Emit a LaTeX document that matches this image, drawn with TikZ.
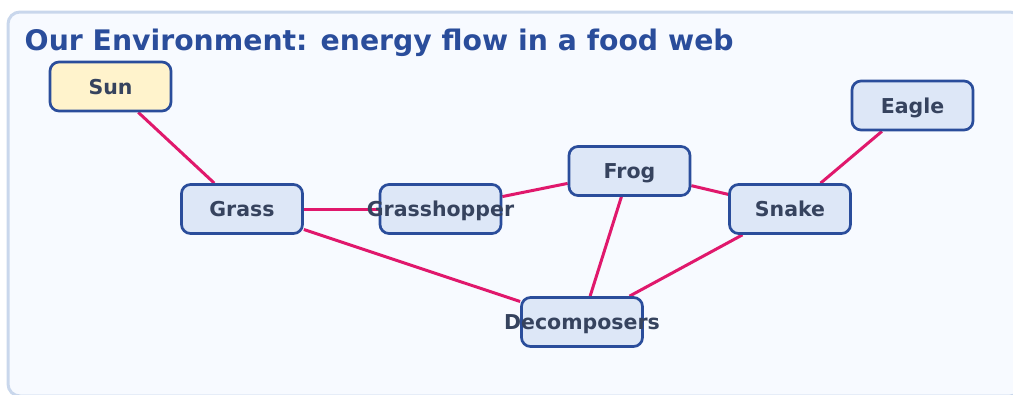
\documentclass[tikz,border=0pt]{standalone}
\usepackage{fontspec}
\setmainfont{DejaVu Sans}
\usetikzlibrary{backgrounds}
\usepackage{xcolor}
\definecolor{panelfill}{HTML}{F7FAFF}
\definecolor{panelline}{HTML}{C9D7EC}
\definecolor{boxfill}{HTML}{DDE7F7}
\definecolor{boxline}{HTML}{2A4D9B}
\definecolor{sunfill}{HTML}{FFF3CC}
\definecolor{linkcol}{HTML}{E0186C}
\definecolor{labelcol}{HTML}{36435E}

\begin{document}
\begin{tikzpicture}[
    x=1pt, y=-1pt,
    box/.style={draw=boxline, fill=boxfill, line width=2.7pt, rounded corners=9pt,
        minimum width=121pt, minimum height=49pt, inner sep=0pt,
        text height=15pt, text depth=0pt, text=labelcol,
        font=\fontsize{20.5}{24}\selectfont\bfseries},
    link/.style={draw=linkcol, line width=3pt}
]
\useasboundingbox (0,0) rectangle (1013,394);

% Titulo
\node[anchor=base west, inner sep=0pt, text=boxline, font=\fontsize{28.3}{32}\selectfont\bfseries] (title) at (24.5,50) {Our Environment: energy flow in a food web};

% Organismos
\node[box, fill=sunfill] (sun) at (110.5,86.5) {Sun};
\node[box] (grass) at (242,209) {Grass};
\node[box] (hopper) at (440.5,209) {\makebox[0pt]{Grasshopper}};
\node[box] (frog) at (629.5,171) {Frog};
\node[box] (snake) at (790,209) {Snake};
\node[box] (eagle) at (912.5,105.5) {Eagle};
\node[box] (decomp) at (582,322) {\makebox[0pt]{Decomposers}};

% Ligacoes
\begin{scope}[on background layer]
\draw[panelline, fill=panelfill, line width=3pt, rounded corners=12pt] (8,12) rectangle (1022,396);
\draw[link] (sun) -- (grass);
\draw[link] (grass) -- (hopper);
\draw[link] (hopper) -- (frog);
\draw[link] (frog) -- (snake);
\draw[link] (snake) -- (eagle);
\draw[link] (grass) -- (decomp);
\draw[link] (frog) -- (decomp);
\draw[link] (snake) -- (decomp);
\end{scope}

\end{tikzpicture}
\end{document}
